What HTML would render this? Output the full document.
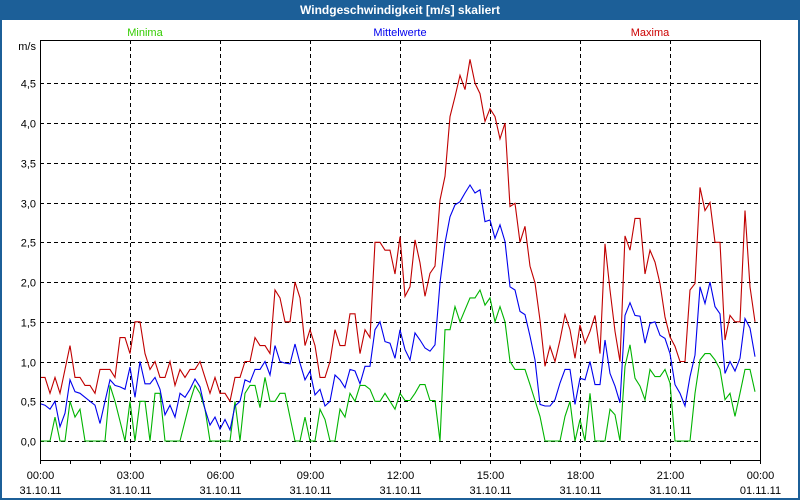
<!DOCTYPE html>
<html><head><meta charset="utf-8">
<style>
body{margin:0;background:#fff;}
#wrap{position:relative;width:800px;height:500px;overflow:hidden;font-family:"Liberation Sans",sans-serif;}
svg text{font-family:"Liberation Sans",sans-serif;}
</style></head>
<body>
<div id="wrap">
<svg id="chart" width="800" height="500" xmlns="http://www.w3.org/2000/svg">
  <rect x="0" y="0" width="800" height="500" fill="#1c5f98"/>
  <rect x="2" y="20" width="796" height="478" fill="#ffffff"/>
  <text x="400" y="14" text-anchor="middle" font-size="12" font-weight="bold" fill="#ffffff">Windgeschwindigkeit [m/s] skaliert</text>
  <text x="145" y="36" text-anchor="middle" font-size="11" fill="#33cc00">Minima</text>
  <text x="400" y="36" text-anchor="middle" font-size="11" fill="#0000ee">Mittelwerte</text>
  <text x="650" y="36" text-anchor="middle" font-size="11" fill="#cc0000">Maxima</text>
  <text x="36" y="50" text-anchor="end" font-size="11" fill="#000">m/s</text>
  <g id="grid"></g>
  <g id="series"></g>
  <rect x="40.5" y="40.5" width="720" height="420" fill="none" stroke="#000" stroke-width="1"/>
  <g id="axes"></g>
</svg>
</div>
<script>
const yTicks = [0,0.5,1,1.5,2,2.5,3,3.5,4,4.5];
const xTickHours = [0,3,6,9,12,15,18,21,24];
const xTimeLabels = ["00:00","03:00","06:00","09:00","12:00","15:00","18:00","21:00","00:00"];
const xDateLabels = ["31.10.11","31.10.11","31.10.11","31.10.11","31.10.11","31.10.11","31.10.11","31.10.11","01.11.11"];
const stepMinutes = 10;
const maxima = [0.8,0.8,0.6,0.8,0.6,0.9,1.2,0.8,0.8,0.7,0.7,0.6,0.9,0.9,0.9,0.8,1.3,1.3,1.1,1.5,1.5,1.1,0.9,1.0,0.8,0.8,1.0,0.7,0.9,0.8,0.9,0.9,1.0,0.8,0.6,0.8,
0.6,0.6,0.5,0.8,0.8,1.0,1.0,1.3,1.2,1.2,1.1,1.9,1.8,1.5,1.5,2.0,1.8,1.2,1.4,1.2,0.8,0.8,1.0,1.4,1.2,1.2,1.6,1.6,1.1,1.4,1.3,2.5,2.5,2.4,2.4,2.1,
2.57,1.82,1.94,2.53,2.24,1.82,2.11,2.2,3.03,3.33,4.08,4.33,4.6,4.42,4.8,4.5,4.37,4.02,4.18,4.08,3.8,4.0,2.95,2.99,2.5,2.7,2.2,1.99,1.52,0.94,1.19,1.0,1.27,1.59,
1.4,1.04,1.46,1.23,1.38,1.58,1.1,2.48,1.9,1.38,1.0,2.58,2.4,2.8,2.8,2.1,2.4,2.25,1.98,1.56,1.31,1.19,1.0,1.0,1.9,1.98,3.19,2.9,3.0,2.5,2.5,1.27,1.58,1.5,1.5,2.9,1.94,1.5];
const mittelwerte = [0.47,0.45,0.4,0.5,0.18,0.35,0.77,0.62,0.6,0.55,0.5,0.45,0.22,0.5,0.77,0.7,0.68,0.65,0.93,0.55,1.0,0.72,0.72,0.8,0.65,0.33,0.45,0.3,0.6,0.55,0.65,0.78,0.68,0.4,0.2,0.3,
0.15,0.27,0.14,0.44,0.5,0.77,0.74,0.9,0.9,1.0,0.83,1.2,1.0,0.98,0.97,1.22,0.98,0.77,0.88,0.58,0.65,0.44,0.5,0.83,0.77,0.67,0.9,0.88,0.72,0.94,0.94,1.4,1.5,1.25,1.23,1.04,
1.4,1.15,1.02,1.36,1.27,1.17,1.13,1.21,1.99,2.49,2.82,2.97,3.01,3.12,3.22,3.12,3.16,2.76,2.78,2.55,2.72,2.51,1.94,1.9,1.63,1.59,1.32,1.02,0.46,0.44,0.44,0.52,0.73,0.9,
0.9,0.46,0.79,0.77,1.0,0.71,0.71,1.27,0.85,0.69,0.48,1.58,1.74,1.58,1.57,1.23,1.48,1.5,1.33,1.29,1.1,0.71,0.6,0.44,0.81,1.08,1.94,1.73,2.0,1.69,1.6,0.85,1.0,0.88,1.04,1.54,1.42,1.06];
const minima = [0,0,0,0.3,0,0,0.5,0.3,0.4,0,0,0,0,0,0.7,0.5,0.25,0,0.5,0,0.5,0.5,0,0.6,0.6,0,0,0,0,0.25,0.5,0.7,0.6,0.4,0,0,
0,0,0,0.5,0,0.6,0.7,0.7,0.42,0.8,0.5,0.5,0.6,0.6,0.3,0,0,0.3,0,0,0.4,0.27,0,0,0.4,0.3,0.6,0.5,0.7,0.7,0.65,0.5,0.5,0.6,0.5,0.4,
0.6,0.51,0.51,0.6,0.71,0.71,0.51,0.51,0,1.4,1.4,1.69,1.5,1.65,1.8,1.8,1.9,1.71,1.8,1.5,1.69,1.5,1.0,0.9,0.9,0.9,0.71,0.51,0.31,0,0,0,0,0.31,
0.5,0,0.27,0,0.6,0,0,0,0.4,0.33,0,0.94,1.21,0.79,0.69,0.52,0.9,0.81,0.81,0.9,0.73,0,0,0,0,0.6,1.02,1.1,1.1,1.02,0.9,0.52,0.6,0.31,0.6,0.9,0.9,0.62];

const NS = "http://www.w3.org/2000/svg";
const X0 = 40, X1 = 760, H0 = 0, H1 = 24;
const Y0val = 441, PXPERUNIT = 79.5;
function xOfHour(h){ return X0 + (h - H0) / (H1 - H0) * (X1 - X0); }
function xOfIndex(i){ return xOfHour(i * stepMinutes / 60); }
function yOf(v){ return Y0val - v * PXPERUNIT; }
function mk(tag, attrs, parent){ const e = document.createElementNS(NS, tag); for (const k in attrs) e.setAttribute(k, attrs[k]); parent.appendChild(e); return e; }

const grid = document.getElementById('grid');
const axes = document.getElementById('axes');
yTicks.forEach(v => {
  const y = Math.round(yOf(v)) + 0.5;
  const l = mk('line', {x1: X0, x2: X1, y1: y, y2: y, stroke: '#000', 'stroke-dasharray': '4,3', 'stroke-width': 1}, grid);
  
  
  const t = mk('text', {x: 36, y: y + 4, 'text-anchor': 'end', 'font-size': 11, fill: '#000'}, axes);
  t.textContent = v.toFixed(1).replace('.', ',');
  
  
});
xTickHours.forEach((h, i) => {
  const x = Math.round(xOfHour(h)) + 0.5;
  if (i > 0 && i < xTickHours.length - 1) {
    const l = mk('line', {x1: x, x2: x, y1: 40, y2: 460, stroke: '#000', 'stroke-dasharray': '4,3', 'stroke-width': 1}, grid);
    
    
  }
  const t1 = mk('text', {x: x, y: 479, 'text-anchor': 'middle', 'font-size': 11, fill: '#000'}, axes);
  t1.textContent = xTimeLabels[i];
  
  
  const t2 = mk('text', {x: x, y: 494, 'text-anchor': 'middle', 'font-size': 11, fill: '#000'}, axes);
  t2.textContent = xDateLabels[i];
  
  
});
for (let h = 0; h <= 24; h++) {
  const x = Math.round(xOfHour(h)) + 0.5;
  const l = mk('line', {x1: x, x2: x, y1: 460, y2: 464, stroke: '#000', 'stroke-width': 1}, axes);
  
  
}

const series = document.getElementById('series');
function drawLine(values, color, name){
  const pts = values.map((v, i) => xOfIndex(i).toFixed(1) + ',' + yOf(v).toFixed(1)).join(' ');
  const p = mk('polyline', {points: pts, fill: 'none', stroke: color, 'stroke-width': 1.1, 'stroke-linejoin': 'miter'}, series);
  
  
}
drawLine(minima, '#00b400', 'minima-line');
drawLine(maxima, '#c00000', 'maxima-line');
drawLine(mittelwerte, '#0000ee', 'mittelwerte-line');
</script>
</body></html>
